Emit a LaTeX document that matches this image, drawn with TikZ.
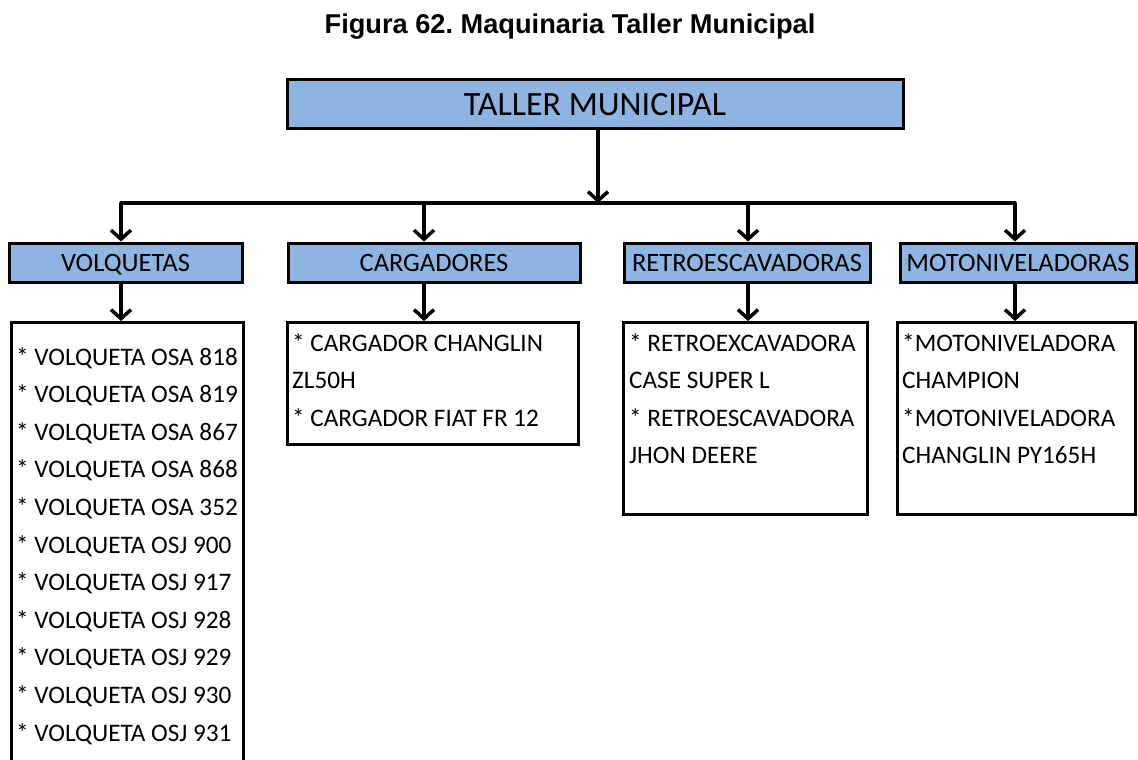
\documentclass[tikz,border=0pt]{standalone}
\usepackage{fontspec}
\setmainfont{Carlito}
\newfontfamily\headfont{Liberation Sans}
\usetikzlibrary{arrows.meta}
\frenchspacing
\definecolor{boxblue}{RGB}{142,180,226}
\tikzset{
  headbox/.style={draw=black, line width=3pt, fill=boxblue, inner sep=0pt,
    text height=22pt, text depth=0pt, font=\fontsize{34}{40}\selectfont},
  catbox/.style={draw=black, line width=3pt, fill=boxblue, inner sep=0pt,
    minimum height=39pt, text height=17pt, text depth=0pt,
    font=\fontsize{26.5}{30}\selectfont},
  listbox/.style={draw=black, line width=3pt, fill=white, inner sep=0pt},
  item/.style={anchor=base west, inner sep=0pt, font=\fontsize{25.2}{30}\selectfont},
  bus/.style={line width=3.5pt, line cap=round},
  arr/.style={line width=3.5pt, -{Straight Barb[length=9pt,width=20pt]}}
}
\begin{document}
\begin{tikzpicture}[x=1pt, y=-1pt]
\clip (0,0) rectangle (1138,760);
\useasboundingbox (0,0) rectangle (1138,760);

% caption
\node[inner sep=0pt, font=\headfont\bfseries\fontsize{27.2}{32}\selectfont] (caption) at (570,27)
  {Figura 62. Maquinaria Taller Municipal};

% root
\node[headbox, minimum width=616pt, minimum height=48pt] (root) at (595,104) {TALLER MUNICIPAL};

% categories
\node[catbox, minimum width=233pt] (vol)   at (125.5,262.5) {VOLQUETAS};
\node[catbox, minimum width=292pt] (carg)  at (434,262.5)   {CARGADORES};
\node[catbox, minimum width=246pt] (retro) at (747,262.5)   {RETROESCAVADORAS};
\node[catbox, minimum width=236pt] (moto)  at (1018,262.5)  {MOTONIVELADORAS};

% lists
\node[listbox, minimum width=232pt, minimum height=480pt, anchor=north] (vollist) at (127,321) {};
\node[listbox, minimum width=291pt, minimum height=122pt, anchor=north] (carglist) at (432.5,321) {};
\node[listbox, minimum width=244pt, minimum height=192pt, anchor=north] (retrolist) at (745,321) {};
\node[listbox, minimum width=238pt, minimum height=192pt, anchor=north] (motolist) at (1016,321) {};

% branch points
\coordinate (hub) at (598,203);
\coordinate (bv) at (121,203);
\coordinate (bc) at (424,203);
\coordinate (br) at (748,203);
\coordinate (bm) at (1015,203);

% connectors
\draw[arr] (root.south -| hub) -- (hub);
\draw[bus] (bv) -- (bm);
\draw[arr] (bv) -- (bv |- vol.north);
\draw[arr] (bc) -- (bc |- carg.north);
\draw[arr] (br) -- (br |- retro.north);
\draw[arr] (bm) -- (bm |- moto.north);
\draw[arr] (vol.south -| bv) -- (vollist.north -| bv);
\draw[arr] (carg.south -| bc) -- (carglist.north -| bc);
\draw[arr] (retro.south -| br) -- (retrolist.north -| br);
\draw[arr] (moto.south -| bm) -- (motolist.north -| bm);

% list contents
\foreach \t [count=\i] in {* VOLQUETA OSA 818, * VOLQUETA OSA 819, * VOLQUETA OSA 867,
    * VOLQUETA OSA 868, * VOLQUETA OSA 352, * VOLQUETA OSJ 900, * VOLQUETA OSJ 917,
    * VOLQUETA OSJ 928, * VOLQUETA OSJ 929, * VOLQUETA OSJ 930, * VOLQUETA OSJ 931}
  \node[item] (v\i) at (16,{365+37.6*(\i-1)}) {\t};

\foreach \t [count=\i] in {* CARGADOR CHANGLIN, ZL50H, * CARGADOR FIAT FR 12}
  \node[item] (c\i) at (292,{351+37.6*(\i-1)}) {\t};

\foreach \t [count=\i] in {* RETROEXCAVADORA, CASE SUPER L, * RETROESCAVADORA, JHON DEERE}
  \node[item] (r\i) at (629,{351+37.6*(\i-1)}) {\t};

\foreach \t [count=\i] in {*MOTONIVELADORA, CHAMPION, *MOTONIVELADORA, CHANGLIN PY165H}
  \node[item] (m\i) at (902,{351+37.6*(\i-1)}) {\t};
\end{tikzpicture}
\end{document}
